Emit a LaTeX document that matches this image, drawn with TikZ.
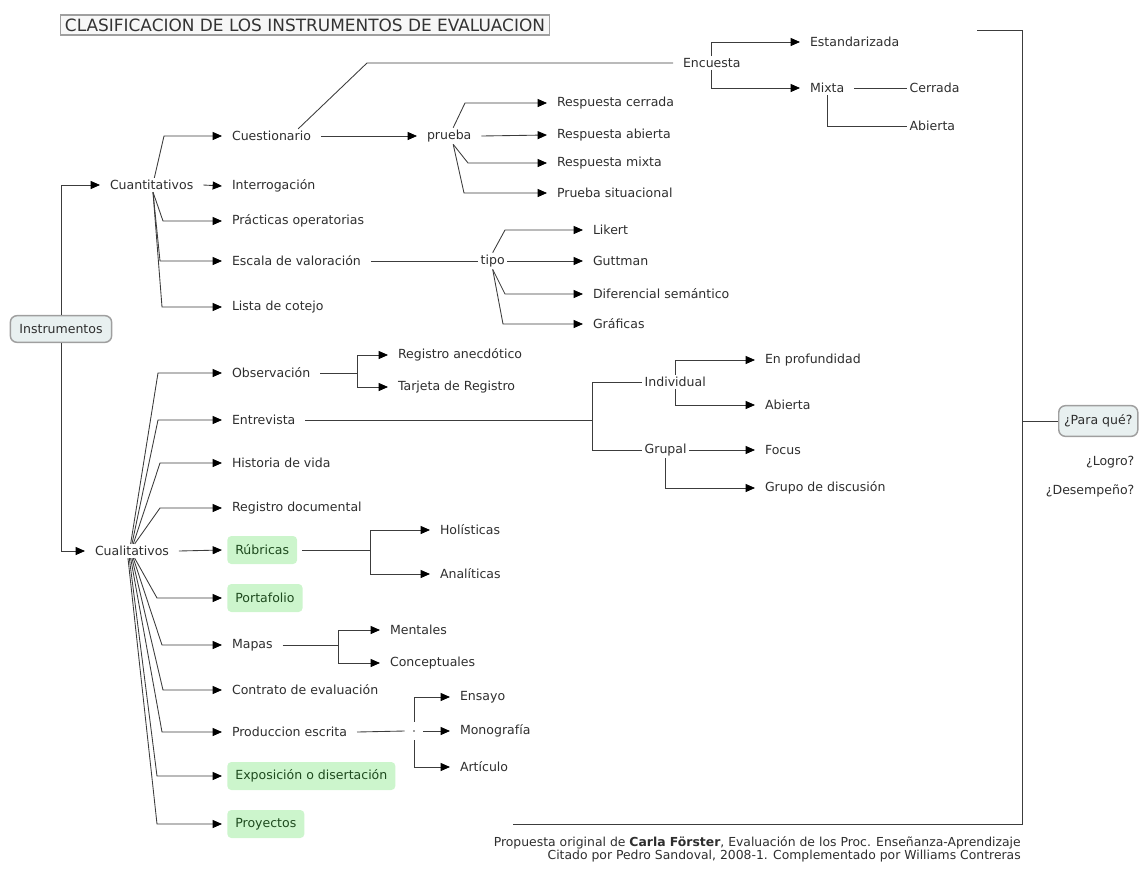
\documentclass[tikz,border=0pt]{standalone}
\usepackage{fontspec}
\setmainfont{DejaVu Sans}
\usetikzlibrary{arrows.meta}
\definecolor{lc}{HTML}{3C3C3C}
\definecolor{tc}{HTML}{2E2E2E}
\definecolor{gfill}{HTML}{CCF5CC}
\definecolor{gtext}{HTML}{1E4A1E}
\definecolor{bfill}{HTML}{E8F0F0}
\tikzset{
  ln/.style={draw=lc, line width=0.65pt},
  arr/.style={ln, -{Triangle[length=7pt,width=6pt,color=black]}},
  lbl/.style={font=\fontsize{9.4}{11}\selectfont, text=tc, inner xsep=1.5pt, inner ysep=1.5pt, outer xsep=6pt, anchor=west},
  lbl0/.style={lbl, outer xsep=0.5pt},
  gbox/.style={font=\fontsize{9.4}{11}\selectfont, text=gtext, fill=gfill, rounded corners=3pt, inner xsep=6pt, inner ysep=2pt, minimum height=21pt, outer xsep=4pt, anchor=west},
  ibox/.style={font=\fontsize{9.4}{11}\selectfont, text=tc, fill=bfill, draw=gray!75, line width=1.1pt, rounded corners=5pt, inner xsep=4pt, inner ysep=2pt},
  titlebox/.style={font=\fontsize{12.7}{14}\selectfont, text=black!80, fill=gray!6, draw=gray!75, line width=1pt, inner xsep=3pt, inner ysep=1.5pt, minimum width=367pt, minimum height=15pt},
  jn/.style={inner sep=0pt, minimum size=13.5pt, path picture={\fill[lc] (path picture bounding box.center) circle (0.6pt);}},
  foot/.style={font=\fontsize{9.3}{10}\selectfont, text=tc, align=right, inner sep=0pt}
}
\begin{document}
\begin{tikzpicture}[x=0.75pt,y=-0.75pt]
\useasboundingbox (0,0) rectangle (1139,868);

% title
\node[titlebox] (title) at (305,25) {CLASIFICACION DE LOS INSTRUMENTOS DE EVALUACION};

% root
\node[ibox, minimum width=76pt, minimum height=20pt] (ins) at (61,329) {Instrumentos};
\node[lbl] (cuant) at (100,185) {Cuantitativos};
\node[lbl] (cual) at (85,551) {Cualitativos};
\draw[arr] (ins.north) |- (cuant.west);
\draw[arr] (ins.south) |- (cual.west);

% Cuantitativos branch
\node[lbl] (cuest) at (222,136) {Cuestionario};
\node[lbl] (interr) at (222,186) {Interrogación};
\node[lbl] (pract) at (222,221) {Prácticas operatorias};
\node[lbl] (escala) at (222,261) {Escala de valoración};
\node[lbl] (lista) at (222,307) {Lista de cotejo};
\draw[arr] ([xshift=2pt]cuant.north) -- (164,136) -- (cuest.west);
\draw[arr] (cuant.east) -- (interr.west);
\draw[arr] ([xshift=1pt]cuant.south) -- (163,221) -- (pract.west);
\draw[arr] ([xshift=1pt]cuant.south) -- (160,261) -- (escala.west);
\draw[arr] ([xshift=1pt]cuant.south) -- (162,307) -- (lista.west);

% prueba
\node[lbl] (prueba) at (417,136) {prueba};
\node[lbl] (rc) at (547,103) {Respuesta cerrada};
\node[lbl] (ra) at (547,135) {Respuesta abierta};
\node[lbl] (rm) at (547,163) {Respuesta mixta};
\node[lbl] (ps) at (547,193) {Prueba situacional};
\draw[arr] (cuest.east) -- (prueba.west);
\draw[arr] ([xshift=3pt]prueba.north) -- (465,103) -- (rc.west);
\draw[arr] (prueba.east) -- (ra.west);
\draw[arr] ([xshift=3pt]prueba.south) -- (468,163) -- (rm.west);
\draw[arr] ([xshift=3pt]prueba.south) -- (464,193) -- (ps.west);

% Encuesta
\node[lbl] (enc) at (673,63) {Encuesta};
\node[lbl] (estand) at (800,42) {Estandarizada};
\node[lbl] (mixta) at (800,88) {Mixta};
\node[lbl0] (cerr) at (907,88) {Cerrada};
\node[lbl0] (abie1) at (907,126) {Abierta};
\draw[ln] ([xshift=20pt]cuest.north) -- (367,63) -- (enc.west);
\draw[arr] (enc.north) |- (estand.west);
\draw[arr] (enc.south) |- (mixta.west);
\draw[ln] (mixta.east) -- (cerr.west);
\draw[ln] (mixta.south) |- (abie1.west);

% tipo
\node[lbl0] (tipo) at (478,261) {tipo};
\node[lbl] (lik) at (583,230) {Likert};
\node[lbl] (gut) at (583,261) {Guttman};
\node[lbl] (dif) at (583,294) {Diferencial semántico};
\node[lbl] (graf) at (583,324) {Gráficas};
\draw[ln] (escala.east) -- (tipo.west);
\draw[arr] (tipo.north) -- (505,230) -- (lik.west);
\draw[arr] (tipo.east) -- (gut.west);
\draw[arr] (tipo.south) -- (505,294) -- (dif.west);
\draw[arr] (tipo.south) -- (503,324) -- (graf.west);

% Cualitativos branch
\node[lbl] (obs) at (222,373) {Observación};
\node[lbl] (entr) at (222,420) {Entrevista};
\node[lbl] (hist) at (222,463) {Historia de vida};
\node[lbl] (regd) at (222,508) {Registro documental};
\node[gbox] (rub) at (222,550) {Rúbricas};
\node[gbox] (port) at (222,598) {Portafolio};
\node[lbl] (mapas) at (222,645) {Mapas};
\node[lbl] (contr) at (222,690) {Contrato de evaluación};
\node[lbl] (prod) at (222,732) {Produccion escrita};
\node[gbox] (expo) at (222,776) {Exposición o disertación};
\node[gbox] (proy) at (222,824) {Proyectos};
\draw[arr] ([xshift=-1pt]cual.north) -- (158,373) -- (obs.west);
\draw[arr] ([xshift=0pt]cual.north) -- (158,420) -- (entr.west);
\draw[arr] ([xshift=1pt]cual.north) -- (160,463) -- (hist.west);
\draw[arr] ([xshift=2pt]cual.north) -- (160,508) -- (regd.west);
\draw[arr] (cual.east) -- (rub.west);
\draw[arr] ([xshift=2pt]cual.south) -- (157,598) -- (port.west);
\draw[arr] ([xshift=1pt]cual.south) -- (162,645) -- (mapas.west);
\draw[arr] ([xshift=0pt]cual.south) -- (163,690) -- (contr.west);
\draw[arr] ([xshift=-1pt]cual.south) -- (162,732) -- (prod.west);
\draw[arr] ([xshift=-2pt]cual.south) -- (157,776) -- (expo.west);
\draw[arr] ([xshift=-3pt]cual.south) -- (157,824) -- (proy.west);

% Observacion
\coordinate (jobs) at (357,373);
\node[lbl] (ranec) at (388,355) {Registro anecdótico};
\node[lbl] (tarj) at (388,387) {Tarjeta de Registro};
\draw[ln] (obs.east) -- (jobs);
\draw[arr] (jobs) |- (ranec.west);
\draw[arr] (jobs) |- (tarj.west);

% Entrevista
\coordinate (jent) at (592,420);
\node[lbl0] (indiv) at (642,382) {Individual};
\node[lbl0] (grup) at (642,450) {Grupal};
\node[lbl] (enprof) at (755,360) {En profundidad};
\node[lbl] (abie2) at (755,405) {Abierta};
\node[lbl] (focus) at (755,450) {Focus};
\node[lbl] (grdis) at (755,488) {Grupo de discusión};
\draw[ln] (entr.east) -- (jent);
\draw[ln] (jent) |- (indiv.west);
\draw[ln] (jent) |- (grup.west);
\draw[arr] (indiv.north) |- (enprof.west);
\draw[arr] (indiv.south) |- (abie2.west);
\draw[arr] (grup.east) -- (focus.west);
\draw[arr] (grup.south) |- (grdis.west);

% Rubricas
\coordinate (jrub) at (370,550);
\node[lbl] (hol) at (430,530) {Holísticas};
\node[lbl] (ana) at (430,574) {Analíticas};
\draw[ln] (rub.east) -- (jrub);
\draw[arr] (jrub) |- (hol.west);
\draw[arr] (jrub) |- (ana.west);

% Mapas
\coordinate (jmap) at (338,645);
\node[lbl] (ment) at (380,630) {Mentales};
\node[lbl] (conc) at (380,663) {Conceptuales};
\draw[ln] (mapas.east) -- (jmap);
\draw[arr] (jmap) |- (ment.west);
\draw[arr] (jmap) |- (conc.west);

% Produccion escrita
\node[jn] (jprod) at (414,731) {};
\node[lbl] (ensayo) at (450,697) {Ensayo};
\node[lbl] (mono) at (450,731) {Monografía};
\node[lbl] (art) at (450,767) {Artículo};
\draw[ln] (prod.east) -- (jprod.west);
\draw[arr] (jprod.north) |- (ensayo.west);
\draw[arr] (jprod.east) -- (mono.west);
\draw[arr] (jprod.south) |- (art.west);

% right bracket and Para que
\draw[ln] (977,30) -- (1022,30) -- (1022,824) -- (513,824);
\coordinate (jpara) at (1022,421);
\node[ibox, minimum width=57pt, minimum height=23pt, anchor=west] (para) at (1058,421) {¿Para qué?};
\draw[ln] (jpara) -- (para.west);
\node[lbl0, anchor=east] (logro) at (1137,462) {¿Logro?};
\node[lbl0, anchor=east] (desemp) at (1137,491) {¿Desempeño?};

% footer
\node[foot, anchor=north east] (footer) at (1021,836) {Propuesta original de \textbf{Carla Förster}, Evaluación de los Proc. Enseñanza-Aprendizaje\\Citado por Pedro Sandoval, 2008-1. Complementado por Williams Contreras};
\end{tikzpicture}
\end{document}
